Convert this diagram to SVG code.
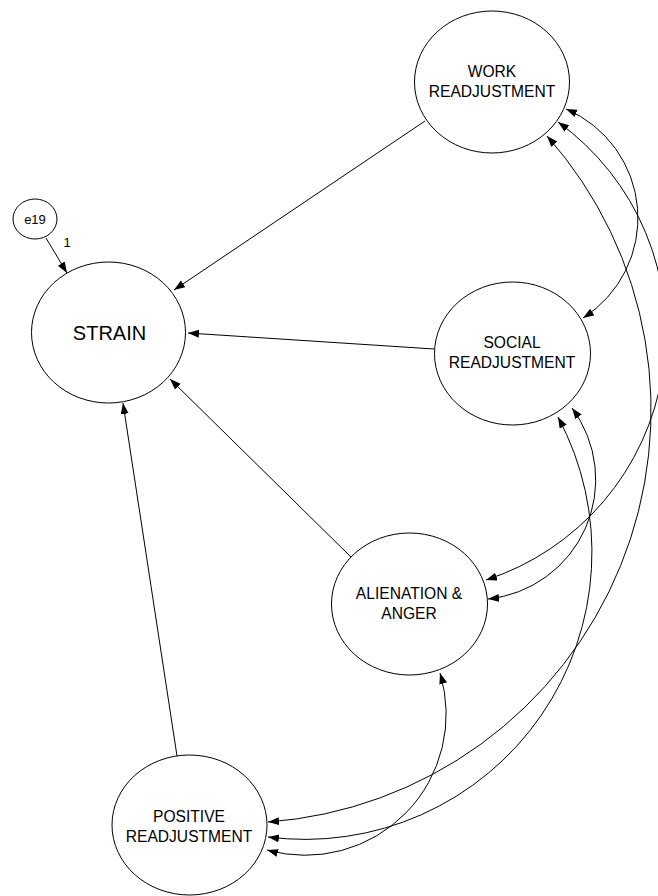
<svg xmlns="http://www.w3.org/2000/svg" width="658" height="896" viewBox="0 0 658 896">
  <defs>
    <marker id="head" markerUnits="userSpaceOnUse" markerWidth="12" markerHeight="9" refX="11" refY="4" orient="auto-start-reverse">
      <path d="M0,0 L11,4 L0,8 z" fill="#000"/>
    </marker>
    <style>
      .node { fill: #fff; stroke: #000; stroke-width: 1; }
      .lbl { font-family: "Liberation Sans", Arial, sans-serif; font-size: 15.6px; fill: #000; text-anchor: middle; }
      .path { fill: none; stroke: #000; stroke-width: 1; marker-end: url(#head); }
      .cov { fill: none; stroke: #000; stroke-width: 1; marker-start: url(#head); marker-end: url(#head); }
    </style>
  </defs>

  <rect width="658" height="896" fill="#fff"/>

  <!-- regression paths and covariances -->
  <g id="connectors">
    <line class="path" x1="46" y1="238" x2="67" y2="273"/>
    <line class="path" x1="425" y1="121" x2="174" y2="290"/>
    <line class="path" x1="434" y1="349" x2="188" y2="333"/>
    <line class="path" x1="351" y1="557" x2="170" y2="379"/>
    <line class="path" x1="177" y1="756" x2="123" y2="403"/>

    <path class="cov" d="M566,109 A118.5,118.5 0 0 1 583,318"/>
    <path class="cov" d="M558,122 A260,260 0 0 1 486,580"/>
    <path class="cov" d="M547,136 A413,413 0 0 1 268,822"/>
    <path class="cov" d="M572,408 A120,120 0 0 1 488,599"/>
    <path class="cov" d="M558,417 A287,287 0 0 1 268,837"/>
    <path class="cov" d="M440,673 A141,141 0 0 1 267,850"/>
  </g>

  <g id="e19">
    <ellipse class="node" cx="35" cy="219" rx="22" ry="20"/>
    <text class="lbl" x="35" y="223.5" style="font-size:13px">e19</text>
    <text class="lbl" x="67" y="247" style="font-size:13px">1</text>
  </g>

  <g id="strain">
    <ellipse class="node" cx="108.5" cy="332.5" rx="77" ry="70.5"/>
    <text class="lbl" x="109.5" y="339.5" style="font-size:20px">STRAIN</text>
  </g>

  <g id="work">
    <ellipse class="node" cx="492" cy="82" rx="77.5" ry="71"/>
    <text class="lbl" x="492" y="77">WORK</text>
    <text class="lbl" x="492" y="97">READJUSTMENT</text>
  </g>

  <g id="social">
    <ellipse class="node" cx="512.5" cy="353.5" rx="78" ry="71.5"/>
    <text class="lbl" x="512" y="348">SOCIAL</text>
    <text class="lbl" x="512" y="368">READJUSTMENT</text>
  </g>

  <g id="alienation">
    <ellipse class="node" cx="409.5" cy="604" rx="78" ry="71"/>
    <text class="lbl" x="409" y="599">ALIENATION &amp;</text>
    <text class="lbl" x="409" y="619">ANGER</text>
  </g>

  <g id="positive">
    <ellipse class="node" cx="189.5" cy="825" rx="77.5" ry="70"/>
    <text class="lbl" x="189" y="822">POSITIVE</text>
    <text class="lbl" x="189" y="842">READJUSTMENT</text>
  </g>
</svg>
